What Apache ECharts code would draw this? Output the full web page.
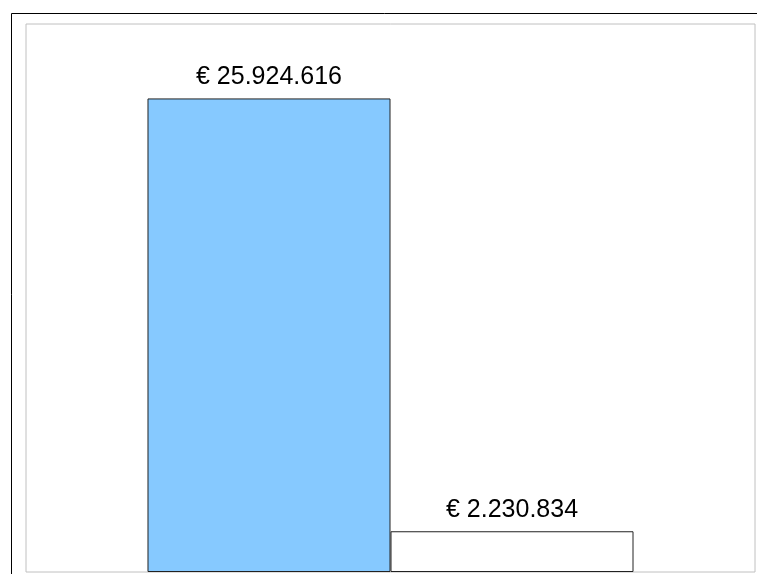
<!DOCTYPE html>
<html>
<head>
<meta charset="utf-8">
<script src="https://cdn.jsdelivr.net/npm/echarts@6/dist/echarts.min.js"></script>
<style>
  html, body { margin: 0; padding: 0; background: #fff; }
  #chart { width: 757px; height: 574px; }
</style>
</head>
<body>
<div id="chart"></div>
<script>
const categories = ['']
const seriesNames = ['A', 'B']
const seriesValues = [[25924616], [2230834]]
const seriesColors = ['#86C9FF', '#FFFFFF']
const yMax = 30000000

const fmtEuro = ( v ) => '€ ' + String( v ).replace( /\B(?=(\d{3})+(?!\d))/g, '.' )

const chart = echarts.init( document.getElementById( 'chart' ) )

chart.setOption( {
  backgroundColor : '#ffffff',
  animation : false,
  graphic : [
    {
      type : 'rect',
      shape : { x : 11.5, y : 13.5, width : 800, height : 700 },
      style : { fill : 'none', stroke : '#000', lineWidth : 1 },
      silent : true
    }
  ],
  grid : {
    left : 26,
    top : 24,
    right : 2,
    bottom : 2,
    show : true,
    borderColor : '#c0c0c0',
    borderWidth : 1,
    backgroundColor : '#fff'
  },
  xAxis : {
    type : 'category',
    data : categories,
    axisLine : { show : false },
    axisTick : { show : false },
    axisLabel : { show : false }
  },
  yAxis : {
    type : 'value',
    min : 0,
    max : yMax,
    axisLine : { show : false },
    axisTick : { show : false },
    axisLabel : { show : false },
    splitLine : { show : false }
  },
  series : seriesNames.map( ( name, i ) => ( {
    name : name,
    type : 'bar',
    data : seriesValues[i],
    barGap : 0,
    barCategoryGap : '33.33%',
    itemStyle : {
      color : seriesColors[i],
      borderColor : '#222',
      borderWidth : 1
    },
    label : {
      show : true,
      position : 'top',
      distance : 9,
      color : '#000',
      fontFamily : 'Liberation Sans, Arial, sans-serif',
      fontSize : 25,
      formatter : ( p ) => fmtEuro( p.value )
    }
  } ) )
} )
</script>
</body>
</html>
